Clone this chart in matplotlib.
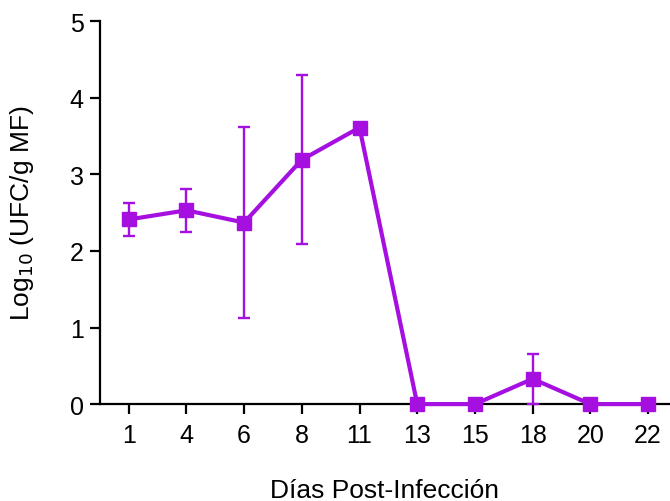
import numpy as np
import matplotlib
matplotlib.use("Agg")
import matplotlib.pyplot as plt

plt.rcParams['font.family'] = ['Liberation Sans', 'DejaVu Sans']

days = ['1', '4', '6', '8', '11', '13', '15', '18', '20', '22']
means = [2.41, 2.53, 2.37, 3.19, 3.61, 0.0, 0.0, 0.33, 0.0, 0.0]
errs = [0.22, 0.28, 1.25, 1.10, 0.0, 0.0, 0.0, 0.33, 0.0, 0.0]

col = '#A50FE0'
x = np.arange(len(days))

fig = plt.figure(figsize=(6.7, 5.02), dpi=100)
ax = fig.add_axes([0.149, 0.193, 0.851, 0.763])

ax.errorbar(x, means, yerr=errs, color=col, lw=3, marker='s', ms=10,
            elinewidth=1.7, capsize=4.3, capthick=1.7, clip_on=False, zorder=3)

ax.set_xlim(-0.5, 9.38)
ax.set_ylim(0, 5)
ax.set_xticks(x)
ax.set_xticklabels(days)
ax.set_yticks([0, 1, 2, 3, 4, 5])

for s in ['top', 'right']:
    ax.spines[s].set_visible(False)
for s in ['left', 'bottom']:
    ax.spines[s].set_linewidth(1.6)
ax.tick_params(axis='both', direction='out', length=7.5, width=1.6,
               labelsize=18, colors='black', pad=4)
ax.tick_params(axis='x', pad=6)

ax.set_ylabel('Log$_{10}$ (UFC/g MF)', fontsize=19)
ax.set_xlabel('Días Post-Infección', fontsize=19)
ax.xaxis.set_label_coords(0.5, -0.193)
ax.yaxis.set_label_coords(-0.112, 0.5)

fig.savefig('out.png', dpi=100)
